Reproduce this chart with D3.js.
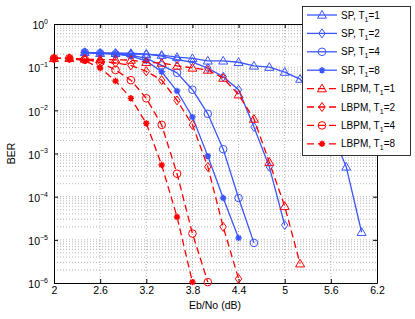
<!DOCTYPE html>
<html>
<head>
<meta charset="utf-8">
<script src="https://cdn.jsdelivr.net/npm/d3@7"></script>
<style>
  body { margin: 0; background: #fff; }
  svg { font-family: "Liberation Sans", Arial, sans-serif; }
</style>
</head>
<body>
<svg width="415" height="319"></svg>
<script>
// x values (Eb/No, dB) of each curve
var xSP1 = [2.4,2.6,2.8,3.0,3.2,3.4,3.6,3.8,4.0,4.2,4.4,4.6,4.8,5.0,5.2,5.4,5.6,5.8,6.0];
var xSP2 = [2.4,2.6,2.8,3.0,3.2,3.4,3.6,3.8,4.0,4.2,4.4,4.6,4.8,5.0];
var xSP4 = [2.4,2.6,2.8,3.0,3.2,3.4,3.6,3.8,4.0,4.2,4.4,4.6];
var xSP8 = [2.4,2.6,2.8,3.0,3.2,3.4,3.6,3.8,4.0,4.2,4.4];
var xLB1 = [2.0,2.2,2.4,2.6,2.8,3.0,3.2,3.4,3.6,3.8,4.0,4.2,4.4,4.6,4.8,5.0,5.2];
var xLB2 = [2.0,2.2,2.4,2.6,2.8,3.0,3.2,3.4,3.6,3.8,4.0,4.2,4.4];
var xLB4 = [2.0,2.2,2.4,2.6,2.8,3.0,3.2,3.4,3.6,3.8,4.0];
var xLB8 = [2.0,2.2,2.4,2.6,2.8,3.0,3.2,3.4,3.6,3.8];

// BER values
var berSP1 = [0.22,0.21,0.21,0.21,0.2,0.19,0.17,0.16,0.14,0.14,0.13,0.107,0.1,0.077,0.053,0.02,0.0035,4.9e-4,1.5e-5];
var berSP2 = [0.22,0.21,0.21,0.2,0.2,0.18,0.15,0.13,0.095,0.06,0.03,4.1e-3,4.9e-4,2.2e-5];
var berSP4 = [0.22,0.21,0.2,0.19,0.16,0.11,0.074,0.03,8.3e-3,1.26e-3,9.3e-5,8.5e-6];
var berSP8 = [0.22,0.21,0.2,0.18,0.14,0.078,0.028,7e-3,8.7e-4,9.3e-5,1.1e-5];
var berLB1 = [0.16,0.16,0.155,0.15,0.148,0.146,0.13,0.125,0.107,0.096,0.086,0.056,0.023,6.3e-3,6.3e-4,6e-5,2.8e-6];
var berLB2 = [0.16,0.16,0.15,0.14,0.125,0.11,0.08,0.05,0.017,4.6e-3,4.9e-4,2e-5,1.25e-6];
var berLB4 = [0.16,0.16,0.15,0.13,0.086,0.05,0.019,4.6e-3,3.4e-4,1.4e-5,1.05e-6];
var berLB8 = [0.16,0.16,0.14,0.096,0.048,0.019,5e-3,5.4e-4,3.4e-5,1.05e-6];

var xTicks = [2, 2.6, 3.2, 3.8, 4.4, 5, 5.6, 6.2];
var yExps = [0, -1, -2, -3, -4, -5, -6];

var names = ["SP, T|1|=1", "SP, T|1|=2", "SP, T|1|=4", "SP, T|1|=8",
             "LBPM, T|1|=1", "LBPM, T|1|=2", "LBPM, T|1|=4", "LBPM, T|1|=8"];

var blue = "#3a55ff", red = "#ff0000";
var series = [
  {x: xSP1, y: berSP1, c: blue, dash: null, m: "tri"},
  {x: xSP2, y: berSP2, c: blue, dash: null, m: "dia"},
  {x: xSP4, y: berSP4, c: blue, dash: null, m: "cir"},
  {x: xSP8, y: berSP8, c: blue, dash: null, m: "ast"},
  {x: xLB1, y: berLB1, c: red, dash: "7,4", m: "tri"},
  {x: xLB2, y: berLB2, c: red, dash: "7,4", m: "dia"},
  {x: xLB4, y: berLB4, c: red, dash: "7,4", m: "cir"},
  {x: xLB8, y: berLB8, c: red, dash: "7,4", m: "ast"}
];

var L = 54, R = 377, T = 24, B = 283;
var svg = d3.select("svg");
var x = d3.scaleLinear().domain([2, 6.2]).range([L, R]);
var y = d3.scaleLog().domain([1e-6, 1]).range([B, T]);

// grid
var grid = svg.append("g").attr("stroke", "#888").attr("stroke-width", 0.6)
  .attr("stroke-dasharray", "1,2");
xTicks.slice(1, -1).forEach(function (t) {
  grid.append("line").attr("x1", x(t)).attr("x2", x(t)).attr("y1", T).attr("y2", B);
});
var minor = [];
yExps.forEach(function (e) {
  if (e === -6) return;
  for (var k = 1; k < 10; k++) minor.push(k * Math.pow(10, e - 1));
});
minor.forEach(function (v) {
  if (v <= 1e-6 || v >= 1) return;
  grid.append("line").attr("x1", L).attr("x2", R).attr("y1", y(v)).attr("y2", y(v));
});

// axes
var xAxis = d3.axisBottom(x).tickValues(xTicks).tickSizeInner(-4).tickSizeOuter(0)
  .tickPadding(4).tickFormat(function (d) { return d; });
var gx = svg.append("g").attr("transform", "translate(0," + B + ")").call(xAxis);
var gxt = svg.append("g").attr("transform", "translate(0," + T + ")")
  .call(d3.axisTop(x).tickValues(xTicks).tickSizeInner(-4).tickSizeOuter(0).tickFormat(""));
var yAxis = d3.axisLeft(y).tickValues(yExps.map(function (e) { return Math.pow(10, e); }))
  .tickSizeInner(-4).tickSizeOuter(0).tickPadding(6).tickFormat("");
var gy = svg.append("g").attr("transform", "translate(" + L + ",0)").call(yAxis);
var gyr = svg.append("g").attr("transform", "translate(" + R + ",0)")
  .call(d3.axisRight(y).tickValues(yExps.map(function (e) { return Math.pow(10, e); }))
    .tickSizeInner(-4).tickSizeOuter(0).tickFormat(""));
[gx, gxt, gy, gyr].forEach(function (g) {
  g.select(".domain").attr("stroke", "#000");
  g.selectAll(".tick line").attr("stroke", "#000");
  g.selectAll("text").attr("font-size", 10.5).attr("fill", "#000")
    .attr("font-family", "Liberation Sans, Arial, sans-serif");
});
gy.selectAll(".tick").each(function (d) {
  var t = d3.select(this).append("text").attr("x", -6).attr("dy", "0.45em")
    .attr("text-anchor", "end").attr("font-size", 10.5).attr("fill", "#000");
  var e = Math.round(Math.log10(d));
  t.append("tspan").text("10");
  t.append("tspan").attr("font-size", 7).attr("dy", "-0.75em")
    .text(e === 0 ? "0" : "\u2212" + (-e));
});

// curves
var line = d3.line().x(function (d) { return x(d[0]); }).y(function (d) { return y(d[1]); });

function marker(g, kind, cx, cy, c) {
  if (kind === "tri") {
    g.append("path").attr("d", "M" + cx + "," + (cy - 4.5) + "L" + (cx + 4.5) + "," + (cy + 3.2) +
      "L" + (cx - 4.5) + "," + (cy + 3.2) + "Z").attr("fill", "none").attr("stroke", c);
  } else if (kind === "dia") {
    g.append("path").attr("d", "M" + cx + "," + (cy - 4.5) + "L" + (cx + 3.2) + "," + cy +
      "L" + cx + "," + (cy + 4.5) + "L" + (cx - 3.2) + "," + cy + "Z").attr("fill", "none").attr("stroke", c);
  } else if (kind === "cir") {
    g.append("circle").attr("cx", cx).attr("cy", cy).attr("r", 3.8).attr("fill", "none").attr("stroke", c);
  } else {
    var r = 3.2;
    var d = "";
    for (var a = 0; a < 4; a++) {
      var ang = a * Math.PI / 4;
      d += "M" + (cx - r * Math.cos(ang)) + "," + (cy - r * Math.sin(ang)) +
           "L" + (cx + r * Math.cos(ang)) + "," + (cy + r * Math.sin(ang));
    }
    g.append("path").attr("d", d).attr("stroke", c).attr("stroke-width", 1.5);
  }
}

var plot = svg.append("g");
series.forEach(function (s) {
  var pts = s.x.map(function (v, i) { return [v, s.y[i]]; });
  var g = plot.append("g");
  g.append("path").datum(pts).attr("d", line).attr("fill", "none")
    .attr("stroke", s.c).attr("stroke-width", 1.3).attr("stroke-dasharray", s.dash);
  pts.forEach(function (p) { marker(g, s.m, x(p[0]), y(p[1]), s.c); });
});

// labels
svg.append("text").attr("x", 215).attr("y", 309).attr("text-anchor", "middle")
  .attr("font-size", 10.5).text("Eb/No (dB)");
svg.append("text").attr("transform", "translate(15," + ((T + B) / 2) + ") rotate(-90)")
  .attr("text-anchor", "middle").attr("font-size", 10.5).text("BER");

// legend
var lg = svg.append("g");
lg.append("rect").attr("x", 302.5).attr("y", 6.5).attr("width", 108).attr("height", 149)
  .attr("fill", "#fff").attr("stroke", "#000").attr("stroke-width", 0.8);
series.forEach(function (s, i) {
  var ly = 15 + i * 18.4;
  lg.append("line").attr("x1", 307).attr("x2", 337).attr("y1", ly).attr("y2", ly)
    .attr("stroke", s.c).attr("stroke-width", 1.3).attr("stroke-dasharray", s.dash);
  marker(lg, s.m, 322, ly, s.c);
  var parts = names[i].split("|");
  var t = lg.append("text").attr("x", 341).attr("y", ly + 3.5).attr("font-size", 10);
  t.append("tspan").text(parts[0]);
  t.append("tspan").attr("font-size", 7).attr("dy", 3).text(parts[1]);
  t.append("tspan").attr("dy", -3).text(parts[2]);
});
</script>
</body>
</html>
